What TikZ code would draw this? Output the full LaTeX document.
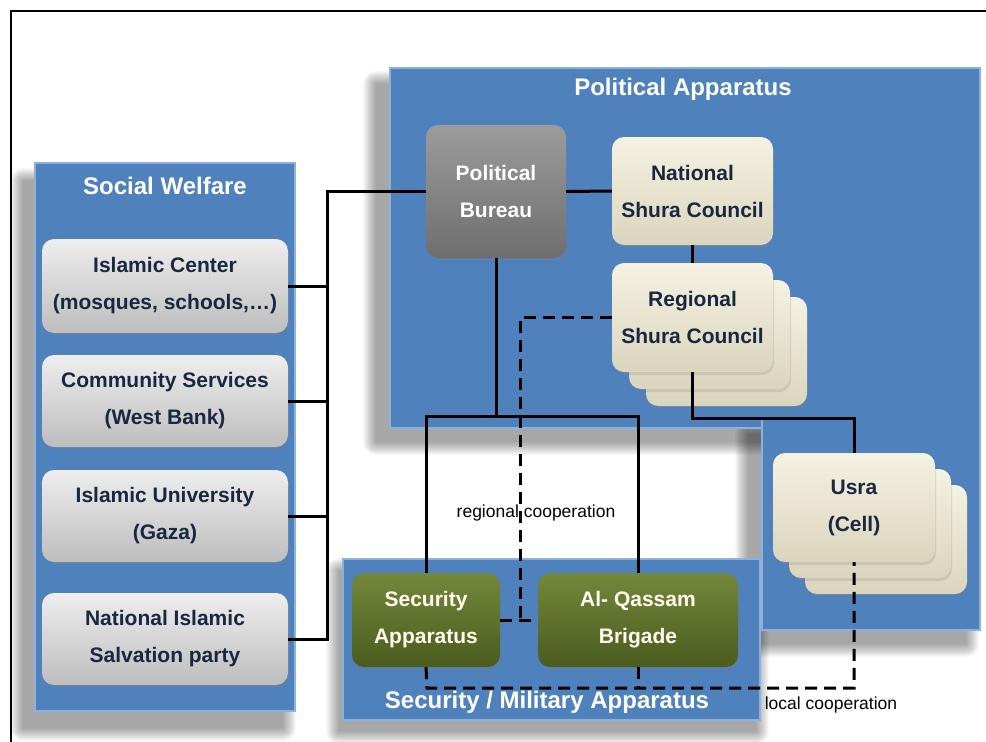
\documentclass[tikz,border=0pt]{standalone}
\usepackage{fontspec}
\setmainfont{Liberation Sans}
\usetikzlibrary{shadows,calc}
\definecolor{pblue}{HTML}{4F81BD}
\definecolor{pblueL}{HTML}{8DB0DC}
\definecolor{navy}{HTML}{1A2740}
\definecolor{gtop}{HTML}{EEEEEE}
\definecolor{gbot}{HTML}{BDBDBD}
\definecolor{dgtop}{HTML}{9C9C9C}
\definecolor{dgbot}{HTML}{6E6E6E}
\definecolor{ctop}{HTML}{F5F2E3}
\definecolor{cbot}{HTML}{DAD5BC}
\definecolor{grtop}{HTML}{74883C}
\definecolor{grbot}{HTML}{4A5B1D}
\newcommand\softshadow[4]{%
  \foreach \i in {0,...,13}{%
    \fill[black,opacity=0.026,rounded corners=\i pt] (#1-\i,#2-\i) rectangle (#3+\i,#4+\i);}}
\tikzset{
  panel/.style={fill=pblue,draw=pblueL,line width=1.2pt},
  ptitle/.style={text=white,font=\fontsize{24}{28}\selectfont\bfseries,inner sep=0pt},
  box/.style={rounded corners=12pt,align=center,inner sep=0pt,
    font=\fontsize{21}{37}\selectfont\bfseries,
    drop shadow={opacity=0.22,shadow xshift=1pt,shadow yshift=-3pt}},
  wbox/.style={box,top color=gtop,bottom color=gbot,text=navy},
  pbbox/.style={box,top color=dgtop,bottom color=dgbot,text=white},
  cbox/.style={box,top color=ctop,bottom color=cbot,text=navy},
  gbox/.style={box,top color=grtop,bottom color=grbot,text=white!94!yellow},
  conn/.style={line width=3pt,black},
  dconn/.style={conn,dash pattern=on 12pt off 7pt},
  lbl/.style={font=\fontsize{17.5}{20}\selectfont,text=black,inner sep=0pt},
}
\begin{document}
\begin{tikzpicture}[x=1pt,y=-1pt]
\useasboundingbox (0,0) rectangle (986,742);
\fill[white] (0,0) rectangle (986,742);
% frame
\draw[line width=2pt] (11,742) -- (11,11) -- (986,11);
% shadows
\softshadow{376}{84}{966}{442}
\softshadow{748}{434}{966}{644}
\softshadow{23}{181}{283}{728}
\softshadow{339}{571}{756}{731}
% panels
\path[panel] (390,68) rectangle (980,428);
\path[panel] (762,418) rectangle (980,630);
\fill[pblue] (763,416) rectangle (979.4,432);
\path[panel] (35,163) rectangle (295,711);
\path[panel] (343,559) rectangle (760,720);
\node[ptitle] (tpol) at (683,89) {Political Apparatus};
\node[ptitle] (tsoc) at (165,186) {Social Welfare};
% social boxes
\node[wbox,minimum width=246pt,minimum height=94pt] (ic) at (165,286) {Islamic Center\\(mosques, schools,…)};
\node[wbox,minimum width=246pt,minimum height=92pt] (cs) at (165,401) {Community Services\\(West Bank)};
\node[wbox,minimum width=246pt,minimum height=92pt] (iu) at (165,516) {Islamic University\\(Gaza)};
\node[wbox,minimum width=246pt,minimum height=92pt] (ni) at (165,639) {National Islamic\\Salvation party};
% political boxes
\node[pbbox,minimum width=140pt,minimum height=133pt] (pb) at (496,191.5) {Political\\Bureau};
\node[cbox,minimum width=161pt,minimum height=108pt] (nsc) at (692.5,191) {National\\Shura Council};
\node[cbox,minimum width=161pt,minimum height=109pt] (rsc3) at (726.5,351.5) {};
\node[cbox,minimum width=161pt,minimum height=109pt] (rsc2) at (709.5,334.5) {};
\node[cbox,minimum width=161pt,minimum height=109pt] (rsc) at (692.5,317.5) {Regional\\Shura Council};
\node[cbox,minimum width=162pt,minimum height=109pt] (usra3) at (886,539.5) {};
\node[cbox,minimum width=162pt,minimum height=109pt] (usra2) at (870,523.5) {};
\node[cbox,minimum width=162pt,minimum height=109pt] (usra) at (854,507.5) {Usra\\(Cell)};
% security boxes
\node[ptitle] (tsec) at (547,702) {Security / Military Apparatus};
\node[gbox,minimum width=148pt,minimum height=94pt] (sa) at (426,620) {Security\\Apparatus};
\node[gbox,minimum width=200pt,minimum height=94pt] (aq) at (638,620) {Al- Qassam\\Brigade};
% solid connectors
\coordinate (bus) at (327,191.5);
\draw[conn] (pb.west) -- (bus) -- (bus |- ni.east) -- (ni.east);
\draw[conn] (ic.east) -- (ic.east -| bus);
\draw[conn] (cs.east) -- (cs.east -| bus);
\draw[conn] (iu.east) -- (iu.east -| bus);
\draw[conn] (pb.east) -- (nsc.west);
\draw[conn] (nsc.south) -- (rsc.north);
\coordinate (j1) at (692.5,418);
\draw[conn] (rsc.south) -- (j1) -| (usra.north);
\coordinate (j2) at (496,416);
\draw[conn] (pb.south) -- (j2);
\draw[conn] (sa.north) |- (j2) -| (aq.north);
% dashed connectors
\coordinate (r1) at (520,620);
\draw[dconn] (rsc.west) -| (r1);
\draw[dconn] (sa.east) -- (aq.west);
\coordinate (l1) at (427,688);
\draw[dconn] (sa.south) -- (l1) -| (usra.south);
\draw[dconn] (aq.south) -- (aq.south |- l1);
% labels
\node[lbl] (lreg) at (536,513) {regional cooperation};
\node[lbl] (lloc) at (831,705) {local cooperation};
\end{tikzpicture}
\end{document}
